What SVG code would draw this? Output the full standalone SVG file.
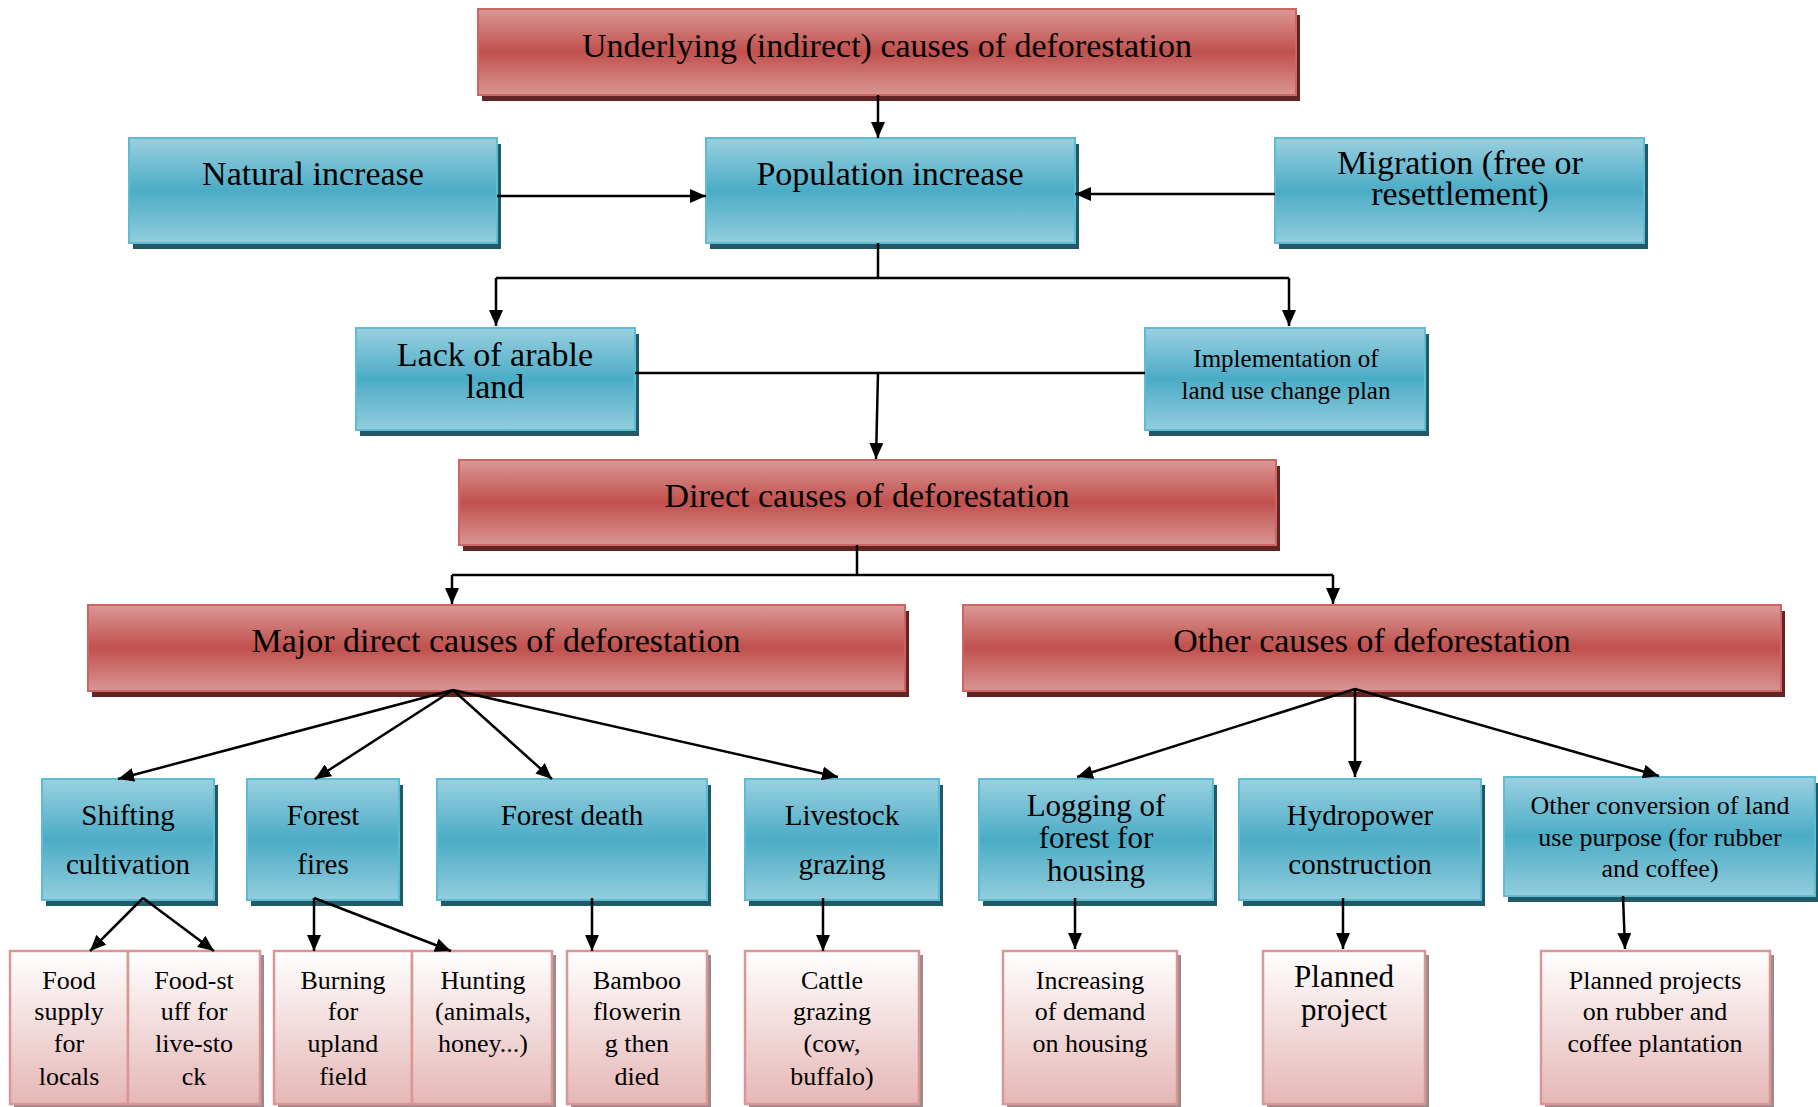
<svg xmlns="http://www.w3.org/2000/svg" width="1818" height="1107" viewBox="0 0 1818 1107">
  <defs>
    <linearGradient id="gBlue" x1="0" y1="0" x2="0" y2="1">
      <stop offset="0" stop-color="#9AD0E0"/>
      <stop offset="0.5" stop-color="#4BACC6"/>
      <stop offset="1" stop-color="#93CDDD"/>
    </linearGradient>
    <linearGradient id="gRed" x1="0" y1="0" x2="0" y2="1">
      <stop offset="0" stop-color="#DB9896"/>
      <stop offset="0.5" stop-color="#C0504D"/>
      <stop offset="1" stop-color="#D99694"/>
    </linearGradient>
    <linearGradient id="gPink" x1="0" y1="0" x2="0" y2="1">
      <stop offset="0" stop-color="#FFFFFF"/>
      <stop offset="1" stop-color="#E5B7B6"/>
    </linearGradient>
    <marker id="arr" markerUnits="userSpaceOnUse" markerWidth="16" markerHeight="14" refX="16" refY="7" orient="auto">
      <path d="M0,0 L16,7 L0,14 z" fill="#000"/>
    </marker>
  </defs>
  <style>
    .blue { fill: url(#gBlue); stroke: #5DBBD2; stroke-width: 2; }
    .blue-sh { fill: #215968; }
    .red { fill: url(#gRed); stroke: #CD6562; stroke-width: 2; }
    .red-sh { fill: #632523; }
    .pink { fill: url(#gPink); stroke: #D99694; stroke-width: 2.5; }
    .pink-sh { fill: #9C8A8A; }
    text { font-family: "Liberation Serif", "Times New Roman", serif; fill: #000; text-anchor: middle; }
    .t34 { font-size: 34px; }
    .t31 { font-size: 31px; }
    .t29 { font-size: 29px; }
    .t26 { font-size: 26px; }
    .t25 { font-size: 25px; }
    .conn { fill: none; stroke: #000; stroke-width: 2.5; }
  </style>
  <rect width="1818" height="1107" fill="#FFFFFF"/>

  <!-- level 1 -->
  <g id="underlying">
    <rect class="red-sh" x="482" y="15" width="818" height="86"/>
    <rect class="red" x="478" y="9" width="818" height="86"/>
    <text class="t34" x="887" y="57">Underlying (indirect) causes of deforestation</text>
  </g>

  <!-- level 2 -->
  <g id="natural-increase">
    <rect class="blue-sh" x="133" y="144" width="368" height="105"/>
    <rect class="blue" x="129" y="138" width="368" height="105"/>
    <text class="t34" x="313" y="185">Natural increase</text>
  </g>
  <g id="population-increase">
    <rect class="blue-sh" x="710" y="144" width="369" height="105"/>
    <rect class="blue" x="706" y="138" width="369" height="105"/>
    <text class="t34" x="890" y="185">Population increase</text>
  </g>
  <g id="migration">
    <rect class="blue-sh" x="1279" y="144" width="369" height="105"/>
    <rect class="blue" x="1275" y="138" width="369" height="105"/>
    <text class="t34" x="1460" y="174">Migration (free or</text>
    <text class="t34" x="1460" y="205">resettlement)</text>
  </g>

  <!-- level 3 -->
  <g id="lack-of-arable-land">
    <rect class="blue-sh" x="360" y="334" width="279" height="102"/>
    <rect class="blue" x="356" y="328" width="279" height="102"/>
    <text class="t34" x="495" y="366">Lack of arable</text>
    <text class="t34" x="495" y="398">land</text>
  </g>
  <g id="land-use-plan">
    <rect class="blue-sh" x="1149" y="334" width="280" height="102"/>
    <rect class="blue" x="1145" y="328" width="280" height="102"/>
    <text class="t25" x="1286" y="367">Implementation of</text>
    <text class="t25" x="1286" y="399">land use change plan</text>
  </g>

  <!-- level 4 -->
  <g id="direct-causes">
    <rect class="red-sh" x="463" y="466" width="817" height="85"/>
    <rect class="red" x="459" y="460" width="817" height="85"/>
    <text class="t34" x="867" y="507">Direct causes of deforestation</text>
  </g>

  <!-- level 5 -->
  <g id="major-direct-causes">
    <rect class="red-sh" x="92" y="611" width="817" height="86"/>
    <rect class="red" x="88" y="605" width="817" height="86"/>
    <text class="t34" x="496" y="652">Major direct causes of deforestation</text>
  </g>
  <g id="other-causes">
    <rect class="red-sh" x="967" y="611" width="818" height="86"/>
    <rect class="red" x="963" y="605" width="818" height="86"/>
    <text class="t34" x="1372" y="652">Other causes of deforestation</text>
  </g>

  <!-- level 6 -->
  <g id="shifting-cultivation">
    <rect class="blue-sh" x="46" y="785" width="172" height="121"/>
    <rect class="blue" x="42" y="779" width="172" height="121"/>
    <text class="t29" x="128" y="825">Shifting</text>
    <text class="t29" x="128" y="874">cultivation</text>
  </g>
  <g id="forest-fires">
    <rect class="blue-sh" x="251" y="785" width="152" height="121"/>
    <rect class="blue" x="247" y="779" width="152" height="121"/>
    <text class="t29" x="323" y="825">Forest</text>
    <text class="t29" x="323" y="874">fires</text>
  </g>
  <g id="forest-death">
    <rect class="blue-sh" x="441" y="785" width="270" height="121"/>
    <rect class="blue" x="437" y="779" width="270" height="121"/>
    <text class="t29" x="572" y="825">Forest death</text>
  </g>
  <g id="livestock-grazing">
    <rect class="blue-sh" x="749" y="785" width="194" height="121"/>
    <rect class="blue" x="745" y="779" width="194" height="121"/>
    <text class="t29" x="842" y="825">Livestock</text>
    <text class="t29" x="842" y="874">grazing</text>
  </g>
  <g id="logging">
    <rect class="blue-sh" x="983" y="785" width="234" height="121"/>
    <rect class="blue" x="979" y="779" width="234" height="121"/>
    <text class="t31" x="1096" y="816">Logging of</text>
    <text class="t31" x="1096" y="848">forest for</text>
    <text class="t31" x="1096" y="881">housing</text>
  </g>
  <g id="hydropower">
    <rect class="blue-sh" x="1243" y="785" width="242" height="121"/>
    <rect class="blue" x="1239" y="779" width="242" height="121"/>
    <text class="t29" x="1360" y="825">Hydropower</text>
    <text class="t29" x="1360" y="874">construction</text>
  </g>
  <g id="other-conversion">
    <rect class="blue-sh" x="1508" y="783" width="311" height="119"/>
    <rect class="blue" x="1504" y="777" width="311" height="119"/>
    <text class="t26" x="1660" y="814">Other conversion of land</text>
    <text class="t26" x="1660" y="846">use purpose (for rubber</text>
    <text class="t26" x="1660" y="877">and coffee)</text>
  </g>

  <!-- level 7 -->
  <g id="food-supply">
    <rect class="pink-sh" x="14" y="955" width="118" height="153"/>
    <rect class="pink" x="10" y="951" width="118" height="153"/>
    <text class="t26" x="69" y="989">Food</text>
    <text class="t26" x="69" y="1020">supply</text>
    <text class="t26" x="69" y="1052">for</text>
    <text class="t26" x="69" y="1085">locals</text>
  </g>
  <g id="food-stuff">
    <rect class="pink-sh" x="132" y="955" width="132" height="153"/>
    <rect class="pink" x="128" y="951" width="132" height="153"/>
    <text class="t26" x="194" y="989">Food-st</text>
    <text class="t26" x="194" y="1020">uff for</text>
    <text class="t26" x="194" y="1052">live-sto</text>
    <text class="t26" x="194" y="1085">ck</text>
  </g>
  <g id="burning">
    <rect class="pink-sh" x="278" y="955" width="138" height="153"/>
    <rect class="pink" x="274" y="951" width="138" height="153"/>
    <text class="t26" x="343" y="989">Burning</text>
    <text class="t26" x="343" y="1020">for</text>
    <text class="t26" x="343" y="1052">upland</text>
    <text class="t26" x="343" y="1085">field</text>
  </g>
  <g id="hunting">
    <rect class="pink-sh" x="416" y="955" width="140" height="153"/>
    <rect class="pink" x="412" y="951" width="140" height="153"/>
    <text class="t26" x="483" y="989">Hunting</text>
    <text class="t26" x="483" y="1020">(animals,</text>
    <text class="t26" x="483" y="1052">honey...)</text>
  </g>
  <g id="bamboo">
    <rect class="pink-sh" x="571" y="955" width="140" height="153"/>
    <rect class="pink" x="567" y="951" width="140" height="153"/>
    <text class="t26" x="637" y="989">Bamboo</text>
    <text class="t26" x="637" y="1020">flowerin</text>
    <text class="t26" x="637" y="1052">g then</text>
    <text class="t26" x="637" y="1085">died</text>
  </g>
  <g id="cattle-grazing">
    <rect class="pink-sh" x="749" y="955" width="174" height="153"/>
    <rect class="pink" x="745" y="951" width="174" height="153"/>
    <text class="t26" x="832" y="989">Cattle</text>
    <text class="t26" x="832" y="1020">grazing</text>
    <text class="t26" x="832" y="1052">(cow,</text>
    <text class="t26" x="832" y="1085">buffalo)</text>
  </g>
  <g id="housing-demand">
    <rect class="pink-sh" x="1007" y="955" width="174" height="153"/>
    <rect class="pink" x="1003" y="951" width="174" height="153"/>
    <text class="t26" x="1090" y="989">Increasing</text>
    <text class="t26" x="1090" y="1020">of demand</text>
    <text class="t26" x="1090" y="1052">on housing</text>
  </g>
  <g id="planned-project">
    <rect class="pink-sh" x="1267" y="955" width="162" height="153"/>
    <rect class="pink" x="1263" y="951" width="162" height="153"/>
    <text class="t31" x="1344" y="987">Planned</text>
    <text class="t31" x="1344" y="1020">project</text>
  </g>
  <g id="plantation-projects">
    <rect class="pink-sh" x="1545" y="955" width="229" height="153"/>
    <rect class="pink" x="1541" y="951" width="229" height="153"/>
    <text class="t26" x="1655" y="989">Planned projects</text>
    <text class="t26" x="1655" y="1020">on rubber and</text>
    <text class="t26" x="1655" y="1052">coffee plantation</text>
  </g>

  <!-- connectors, drawn last so their meeting points sit on top of the box edges -->
  <g id="connectors" class="conn">
    <path d="M878,95 V138" marker-end="url(#arr)"/>
    <path d="M497,196 H706" marker-end="url(#arr)"/>
    <path d="M1275,194 H1075" marker-end="url(#arr)"/>
    <path d="M878,243 V278"/>
    <path d="M496,278 H1289"/>
    <path d="M496,278 V326" marker-end="url(#arr)"/>
    <path d="M1289,278 V326" marker-end="url(#arr)"/>
    <path d="M635,373 H1145"/>
    <path d="M878,373 L876,459" marker-end="url(#arr)"/>
    <path d="M857,545 V575"/>
    <path d="M452,575 H1333"/>
    <path d="M452,575 V604" marker-end="url(#arr)"/>
    <path d="M1333,575 V604" marker-end="url(#arr)"/>
    <path d="M453,690 L118,779" marker-end="url(#arr)"/>
    <path d="M453,690 L315,779" marker-end="url(#arr)"/>
    <path d="M453,690 L552,779" marker-end="url(#arr)"/>
    <path d="M453,690 L838,777" marker-end="url(#arr)"/>
    <path d="M1355,689 L1077,777" marker-end="url(#arr)"/>
    <path d="M1355,689 L1355,777" marker-end="url(#arr)"/>
    <path d="M1355,689 L1659,776" marker-end="url(#arr)"/>
    <path d="M143,898 L90,951" marker-end="url(#arr)"/>
    <path d="M143,898 L214,951" marker-end="url(#arr)"/>
    <path d="M314,898 L314,951" marker-end="url(#arr)"/>
    <path d="M314,898 L451,951" marker-end="url(#arr)"/>
    <path d="M592,898 L592,951" marker-end="url(#arr)"/>
    <path d="M823,898 L823,951" marker-end="url(#arr)"/>
    <path d="M1075,898 L1075,949" marker-end="url(#arr)"/>
    <path d="M1343,898 L1343,949" marker-end="url(#arr)"/>
    <path d="M1623,896 L1625,949" marker-end="url(#arr)"/>
  </g>
</svg>
